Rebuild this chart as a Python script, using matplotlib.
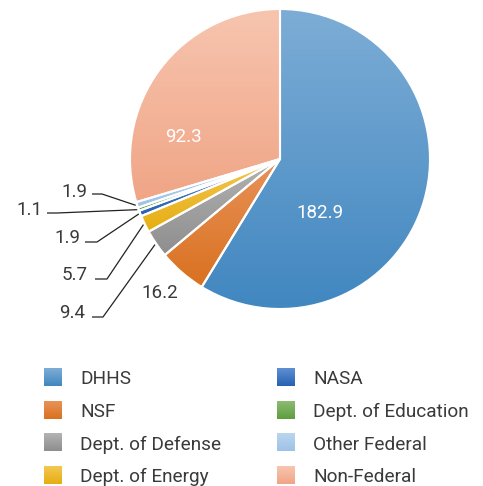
import numpy as np
import matplotlib
matplotlib.use("Agg")
import matplotlib.pyplot as plt
from matplotlib.colors import to_rgb

plt.rcParams['font.family'] = ['Roboto', 'DejaVu Sans']

categories = ['DHHS', 'NSF', 'Dept. of Defense', 'Dept. of Energy',
              'NASA', 'Dept. of Education', 'Other Federal', 'Non-Federal']
values = [182.9, 16.2, 9.4, 5.7, 1.9, 1.1, 1.9, 92.3]
# gradient colours (top, bottom) per slice
top_colors = ['#7DADD6', '#E8925A', '#B3B3B3', '#F3C752',
              '#5E8FD2', '#8CBB72', '#BBD5EF', '#F7C5AF']
bottom_colors = ['#4187C0', '#D9711F', '#8E8E8E', '#E6AE12',
                 '#2962B3', '#5E9E3E', '#9EC2E7', '#F0A586']

text_dark = '#3a3a3a'
R = 150.0  # px per data unit


def px(x, y):
    # image pixel -> data coords (pie centre at 280,159)
    return (x - 280) / R, (159 - y) / R


def gradient_fill(ax, patch, c_top, c_bot, zorder=1):
    bb = patch.get_path().get_extents(patch.get_transform() - ax.transData)
    t = np.linspace(0, 1, 128)[:, None, None]
    img = (1 - t) * np.array(to_rgb(c_top)) + t * np.array(to_rgb(c_bot))
    im = ax.imshow(img, extent=(bb.x0, bb.x1, bb.y0, bb.y1), origin='upper',
                   aspect='auto', zorder=zorder, interpolation='bilinear')
    im.set_clip_path(patch)


fig = plt.figure(figsize=(4.83, 4.86), dpi=100)
ax = fig.add_axes([0, 0, 1, 1])

wedges, _ = ax.pie(values, startangle=90, counterclock=False, radius=1,
                   wedgeprops=dict(edgecolor='white', linewidth=1.5))
for w, ct, cb in zip(wedges, top_colors, bottom_colors):
    gradient_fill(ax, w, ct, cb)
    w.set_facecolor('none')
    w.set_zorder(2)

# labels inside / next to large slices
big_labels = {0: (px(320, 212.5), 'white'), 7: (px(183, 136.5), 'white'),
              1: (px(160, 292.5), text_dark)}
for i, ((x, y), col) in big_labels.items():
    ax.text(x, y, f'{values[i]:.1f}', color=col, fontsize=13.5,
            ha='center', va='center', zorder=3)

# small slices with leader lines: (text right x, baseline y, elbow start x, elbow end x, line y)
leaders = {6: (87, 197, 92, 102, 194),
           5: (42, 215, 47, 57, 213),
           4: (80, 243, 85, 97, 242),
           3: (88, 280, 95, 107, 279),
           2: (85, 318, 92, 103, 317)}
for i, (tx, ty, ex0, ex1, ly) in leaders.items():
    w = wedges[i]
    ang = np.deg2rad((w.theta1 + w.theta2) / 2)
    pt = (1.01 * np.cos(ang), 1.01 * np.sin(ang))
    a = px(ex0, ly)
    b = px(ex1, ly)
    ax.plot([a[0], b[0], pt[0]], [a[1], b[1], pt[1]], color='#222222',
            lw=0.9, zorder=3, solid_capstyle='butt')
    x, y = px(tx, ty)
    ax.text(x, y, f'{values[i]:.1f}', color=text_dark, fontsize=13.5,
            ha='right', va='baseline', zorder=3)

# legend: two columns of four
sq = 18
for i, name in enumerate(categories):
    col, row = divmod(i, 4)
    sx = 44 if col == 0 else 277
    cy = 377 + row * 32.6
    x0, y0 = px(sx, cy + sq / 2)
    x1, y1 = px(sx + sq, cy - sq / 2)
    t = np.linspace(0, 1, 32)[:, None, None]
    img = (1 - t) * np.array(to_rgb(top_colors[i])) + t * np.array(to_rgb(bottom_colors[i]))
    ax.imshow(img, extent=(x0, x1, y0, y1), origin='upper', aspect='auto', zorder=2)
    tx, ty = px(sx + 36, cy + 7.5)
    ax.text(tx, ty, name, color=text_dark, fontsize=13.7, ha='left', va='baseline')

ax.set_xlim(-280 / R, 203 / R)
ax.set_ylim(-(486 - 159) / R, 159 / R)
ax.set_aspect('equal')
ax.axis('off')

fig.savefig('out.png', dpi=100)
